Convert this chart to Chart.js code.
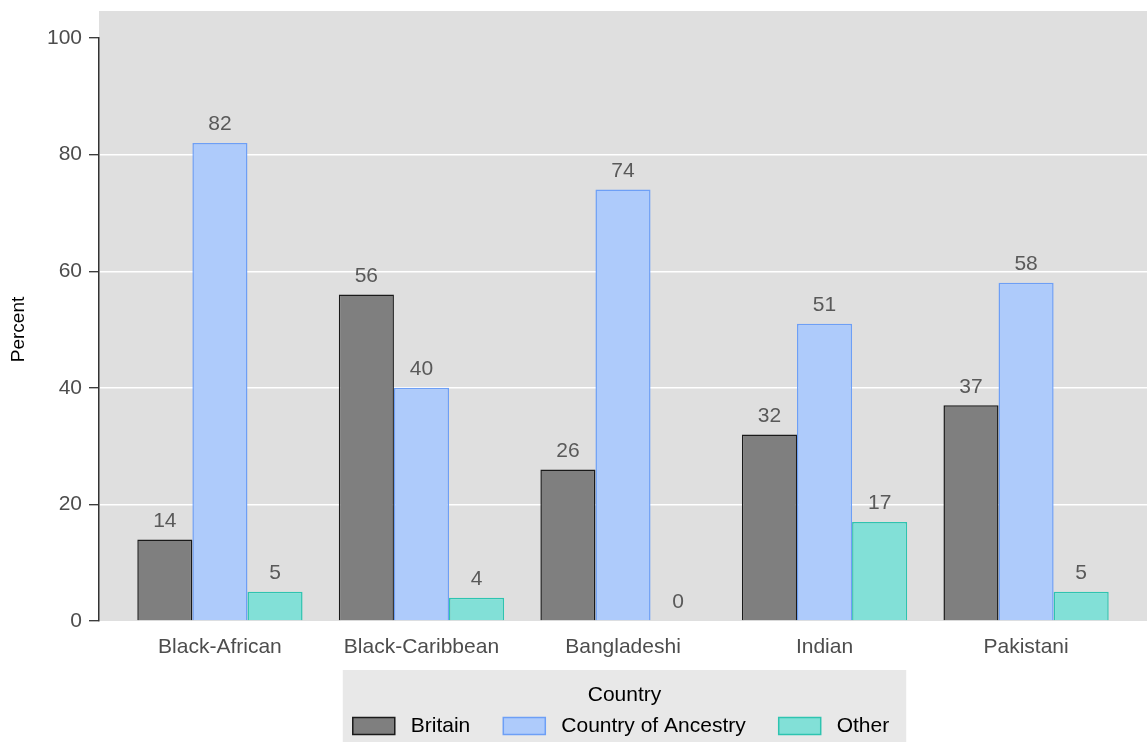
<!DOCTYPE html>
<html>
<head>
<meta charset="utf-8">
<script src="https://cdn.jsdelivr.net/npm/chart.js@4"></script>
<style>
  body { margin: 0; background: #fff; }
  #wrap { width: 1147px; height: 742px; }
</style>
</head>
<body>
<div id="wrap"><canvas id="myChart"></canvas></div>
<script>
var categories = ['Black-African', 'Black-Caribbean', 'Bangladeshi', 'Indian', 'Pakistani'];
var britain = [14, 56, 26, 32, 37];
var ancestry = [82, 40, 74, 51, 58];
var other = [5, 4, 0, 17, 5];
var yTicks = [0, 20, 40, 60, 80, 100];

var FONT = '"Liberation Sans", Arial, Helvetica, sans-serif';

function points(arr) {
  return arr.map(function (v, i) { return { x: i, y: v }; });
}

// grey panel behind the plot, white page behind that
var backdrop = {
  id: 'backdrop',
  beforeDraw: function (chart) {
    var ctx = chart.ctx, a = chart.chartArea;
    ctx.save();
    ctx.fillStyle = '#fff';
    ctx.fillRect(0, 0, chart.width, chart.height);
    ctx.fillStyle = '#dfdfdf';
    ctx.fillRect(a.left, a.top - 27, a.right - a.left, a.bottom - a.top + 27);
    ctx.restore();
  }
};

// numbers over the bars
var valueLabels = {
  id: 'valueLabels',
  afterDatasetsDraw: function (chart) {
    var ctx = chart.ctx;
    ctx.save();
    ctx.font = '21px ' + FONT;
    ctx.fillStyle = '#595959';
    ctx.textAlign = 'center';
    ctx.textBaseline = 'bottom';
    chart.data.datasets.forEach(function (ds, di) {
      chart.getDatasetMeta(di).data.forEach(function (el, i) {
        ctx.fillText(ds.data[i].y, el.x, el.y - 8);
      });
    });
    ctx.restore();
  }
};

// ggplot-style legend box under the panel, centred on the panel
var boxLegend = {
  id: 'boxLegend',
  afterDraw: function (chart) {
    var ctx = chart.ctx, a = chart.chartArea;
    var cx = (a.left + a.right) / 2;
    var top = a.bottom + 49;
    var sw = 42, sh = 17, gapIn = 16, gapOut = 33;
    ctx.save();
    ctx.font = '21px ' + FONT;
    var dss = chart.data.datasets;
    var total = 0;
    dss.forEach(function (ds, i) {
      total += sw + gapIn + ctx.measureText(ds.label).width;
      if (i < dss.length - 1) total += gapOut;
    });
    var boxL = cx - total / 2 - 12, boxR = cx + total / 2 + 15;
    ctx.fillStyle = '#e8e8e8';
    ctx.fillRect(boxL, top, boxR - boxL, chart.height - top);

    ctx.fillStyle = '#000';
    ctx.textAlign = 'center';
    ctx.textBaseline = 'middle';
    ctx.fillText('Country', (boxL + boxR) / 2, top + 25);

    var x = cx - total / 2 - 2;
    var yMid = top + 56;
    ctx.textAlign = 'left';
    dss.forEach(function (ds) {
      ctx.fillStyle = ds.backgroundColor;
      ctx.fillRect(x, yMid - sh / 2, sw, sh);
      ctx.strokeStyle = ds.borderColor;
      ctx.lineWidth = 1.5;
      ctx.strokeRect(x, yMid - sh / 2, sw, sh);
      x += sw + gapIn;
      ctx.fillStyle = '#000';
      ctx.fillText(ds.label, x, yMid);
      x += ctx.measureText(ds.label).width + gapOut;
    });
    ctx.restore();
  }
};

var ctx = document.getElementById('myChart').getContext('2d');
var chart = new Chart(ctx, {
  type: 'bar',
  data: {
    datasets: [{
      label: 'Britain',
      data: points(britain),
      backgroundColor: '#7f7f7f',
      borderColor: '#1a1a1a',
      borderWidth: 1.5
    }, {
      label: 'Country of Ancestry',
      data: points(ancestry),
      backgroundColor: '#aecbfb',
      borderColor: '#6d9ff6',
      borderWidth: 1.5
    }, {
      label: 'Other',
      data: points(other),
      backgroundColor: '#82e0d7',
      borderColor: '#2ec4b0',
      borderWidth: 1.5
    }]
  },
  options: {
    responsive: true,
    maintainAspectRatio: false,
    animation: false,
    categoryPercentage: 0.82,
    barPercentage: 1,
    layout: { padding: { top: 38, right: 0, left: 0, bottom: 72 } },
    plugins: {
      tooltip: { enabled: false },
      legend: { display: false }
    },
    scales: {
      x: {
        type: 'linear',
        min: -0.6,
        max: 4.6,
        offset: false,
        afterBuildTicks: function (scale) {
          scale.ticks = categories.map(function (c, i) { return { value: i }; });
        },
        afterFit: function (scale) { scale.height = 49; },
        ticks: {
          color: '#4d4d4d',
          font: { family: FONT, size: 21 },
          padding: 6,
          maxRotation: 0,
          autoSkip: false,
          callback: function (v) { return categories[v]; }
        },
        grid: { display: false },
        border: { display: false }
      },
      y: {
        min: 0,
        max: 100,
        afterBuildTicks: function (scale) {
          scale.ticks = yTicks.map(function (v) { return { value: v }; });
        },
        afterFit: function (scale) { scale.width = 99; },
        ticks: {
          color: '#4d4d4d',
          font: { family: FONT, size: 21 },
          padding: 7
        },
        title: {
          display: true,
          text: 'Percent',
          color: '#000',
          font: { family: FONT, size: 19 },
          padding: { top: 7, bottom: 0 }
        },
        grid: {
          color: function (c) {
            var v = c.tick ? c.tick.value : 0;
            return (v > 0 && v < 100) ? '#ffffff' : 'rgba(0,0,0,0)';
          },
          lineWidth: 1.4,
          tickColor: '#333',
          tickLength: 10,
          tickWidth: 1.3
        },
        border: { display: true, color: '#333', width: 1.5 }
      }
    }
  },
  plugins: [backdrop, valueLabels, boxLegend]
});
</script>
</body>
</html>
